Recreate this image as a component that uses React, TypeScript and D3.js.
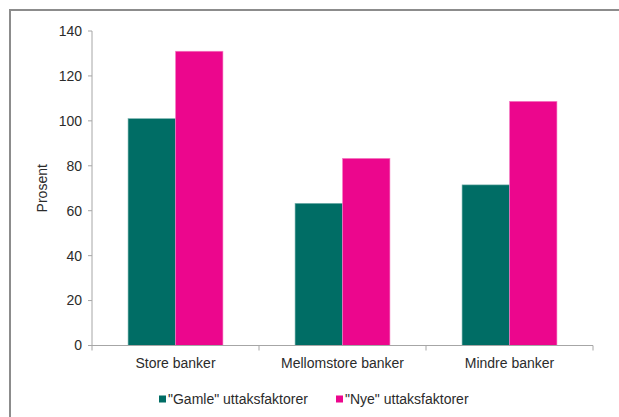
import React from "react";
import * as d3 from "d3";

// Categories and series
const categories = ["Store banker", "Mellomstore banker", "Mindre banker"];
const seriesNames = ["\"Gamle\" uttaksfaktorer", "\"Nye\" uttaksfaktorer"];
const gamleValues = [101, 63.3, 71.5];
const nyeValues = [131, 83.3, 108.7];
const yTicks = [0, 20, 40, 60, 80, 100, 120, 140];
const yLabel = "Prosent";

const colors = ["#006D65", "#EC068D"];
const strokeColors = ["#7fb6b2", "#f583c6"];

const W = 619;
const H = 417;
const plot = { left: 92, right: 593, top: 31, bottom: 345.5 };
const FONT = "'Liberation Sans', Arial, sans-serif";
const FS = 14;

export default function App() {
  const x = d3
    .scaleBand<string>()
    .domain(categories)
    .range([plot.left, plot.right])
    .paddingInner(0)
    .paddingOuter(0);
  const inner = d3
    .scaleBand<number>()
    .domain([0, 1])
    .range([0, x.bandwidth()])
    .paddingOuter(0.76)
    .paddingInner(0);
  const y = d3.scaleLinear().domain([0, 140]).range([plot.bottom, plot.top]);

  const series = [gamleValues, nyeValues];
  const axisColor = "#a6a6a6";
  const textColor = "#2b2b2b";

  return (
    <svg
      width={W}
      height={H}
      style={{ position: "absolute", left: 0, top: 0, background: "#fff" }}
      fontFamily={FONT}
    >
      {/* frame */}
      <line x1={10} y1={9} x2={10} y2={H} stroke="#8c8c8c" strokeWidth={2} />
      <line x1={9} y1={10} x2={W} y2={10} stroke="#8c8c8c" strokeWidth={2} />

      {/* bars */}
      {series.map((vals, si) =>
        categories.map((c, ci) => {
          const x0 = (x(c) ?? 0) + (inner(si) ?? 0);
          const yTop = y(vals[ci]);
          return (
            <rect
              key={`${si}-${ci}`}
              x={x0}
              y={yTop}
              width={inner.bandwidth()}
              height={y(0) - yTop}
              fill={colors[si]}
              stroke={strokeColors[si]}
              strokeWidth={0.6}
            />
          );
        })
      )}

      {/* y axis */}
      <line x1={plot.left} y1={plot.top} x2={plot.left} y2={plot.bottom} stroke={axisColor} strokeWidth={1} />
      {yTicks.map((t) => (
        <g key={t}>
          <line x1={plot.left - 4} x2={plot.left} y1={y(t)} y2={y(t)} stroke={axisColor} />
          <text
            x={plot.left - 10}
            y={y(t)}
            dy="0.35em"
            textAnchor="end"
            fontSize={FS}
            fill={textColor}
          >
            {t}
          </text>
        </g>
      ))}
      <text
        transform={`translate(42,${(plot.top + plot.bottom) / 2}) rotate(-90)`}
        textAnchor="middle"
        dy="0.35em"
        fontSize={FS}
        fill={textColor}
      >
        {yLabel}
      </text>

      {/* x axis */}
      <line x1={plot.left} y1={plot.bottom} x2={plot.right} y2={plot.bottom} stroke={axisColor} />
      {[...categories.map((c) => x(c) ?? 0), plot.right].map((px, i) => (
        <line key={i} x1={px} x2={px} y1={plot.bottom} y2={plot.bottom + 5} stroke={axisColor} />
      ))}
      {categories.map((c) => (
        <text
          key={c}
          x={(x(c) ?? 0) + x.bandwidth() / 2}
          y={363}
          dy="0.35em"
          textAnchor="middle"
          fontSize={FS}
          fill={textColor}
        >
          {c}
        </text>
      ))}

      {/* legend */}
      {seriesNames.map((name, i) => {
        const lx = [159, 336][i];
        return (
          <g key={name}>
            <rect x={lx} y={395.5} width={7} height={7} fill={colors[i]} />
            <text x={lx + 9} y={399} dy="0.35em" fontSize={FS} fill={textColor}>
              {name}
            </text>
          </g>
        );
      })}
    </svg>
  );
}
